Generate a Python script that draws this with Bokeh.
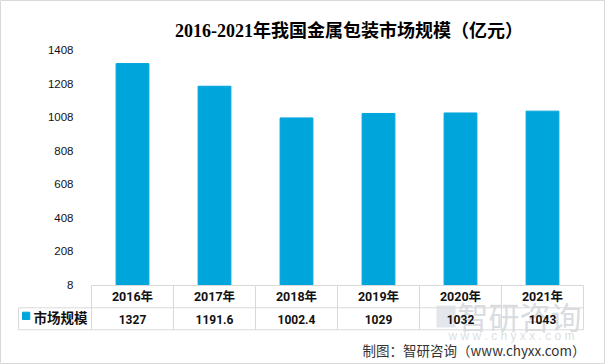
from bokeh.plotting import figure
from bokeh.models import ColumnDataSource, FixedTicker, Range1d
from bokeh.core.properties import value
from bokeh.embed import file_html
from bokeh.resources import INLINE

# ---------------- data ----------------
years = ["2016年", "2017年", "2018年", "2019年", "2020年", "2021年"]
values = [1327, 1191.6, 1002.4, 1029, 1032, 1043]
value_labels = ["1327", "1191.6", "1002.4", "1029", "1032", "1043"]
y_ticks = [8, 208, 408, 608, 808, 1008, 1208, 1408]
title_text = "2016-2021年我国金属包装市场规模（亿元）"
series_name = "市场规模"
source_text = "制图：智研咨询（www.chyxx.com）"
watermark_text = "智研咨询"
watermark_url = "w w w . c h y x x . c o m"

# ---------------- layout (picture pixels) ----------------
W, H = 605, 364
OFF = 0
X0_PX, X_UNIT = 91.0, 82.0
Y8_PX, Y_PX_PER_UNIT = 284.0, 0.1675


def px2x(px):
    return (px - X0_PX) / X_UNIT


def px2y(py):
    return 8 + (Y8_PX - py) / Y_PX_PER_UNIT


BLUE = "#00A5DC"
GRID = "#d9d9d9"
CJK = "Noto Sans CJK SC"
NUM = "Roboto, Noto Sans CJK SC"

p = figure(width=W, height=H, output_backend="svg", toolbar_location=None,
           x_range=Range1d(px2x(OFF), px2x(OFF + W)),
           y_range=Range1d(px2y(OFF + H), px2y(OFF)),
           x_axis_location=None, min_border=0)
p.outline_line_color = "#d9d9d9"
p.xgrid.visible = False
p.ygrid.visible = False
p.background_fill_color = "white"
p.border_fill_color = "white"

n = len(years)
xs = [i + 0.5 for i in range(n)]

# bars
p.vbar(x=xs, top=values, bottom=px2y(285), width=0.4, color=BLUE)

# y axis
yax = p.yaxis[0]
yax.fixed_location = 0
yax.ticker = FixedTicker(ticks=y_ticks)
yax.axis_line_color = None
yax.major_tick_line_color = None
yax.minor_tick_line_color = None
yax.major_label_standoff = 12
yax.major_label_text_font = "Liberation Sans"
yax.major_label_text_font_size = "11.5px"
yax.major_label_text_color = "#111111"

# watermark
p.quad(left=[px2x(436)], right=[px2x(455)], top=[px2y(305)], bottom=[px2y(327)],
       fill_color="#b9c2cc", fill_alpha=0.4, line_color=None)
p.text(x=[px2x(457)], y=[px2y(315)], text=[watermark_text],
       text_font=value(CJK), text_font_size="31px", text_color="#b9bec6",
       text_alpha=0.55, text_align="left", text_baseline="middle")
p.text(x=[px2x(511)], y=[px2y(335)], text=[watermark_url],
       text_font=value("Liberation Sans"), text_font_size="12px", text_color="#c4c8ce",
       text_alpha=0.6, text_align="center", text_baseline="middle")

# table lines
t_top, t_mid, t_bot = px2y(285), px2y(307.3), px2y(329.3)
x_left = px2x(18)
p.segment(x0=[0, x_left, x_left], y0=[t_top, t_mid, t_bot],
          x1=[n, n, n], y1=[t_top, t_mid, t_bot], line_color=GRID, line_width=1)
p.segment(x0=list(range(n + 1)), y0=[t_top] * (n + 1),
          x1=list(range(n + 1)), y1=[t_bot] * (n + 1), line_color=GRID, line_width=1)
p.segment(x0=[x_left], y0=[t_mid], x1=[x_left], y1=[t_bot], line_color=GRID, line_width=1)

# table texts
src = ColumnDataSource(dict(x=xs, yr=years, val=value_labels,
                            y1=[px2y(296)] * n, y2=[px2y(318.5)] * n))
p.text(x="x", y="y1", text="yr", source=src, text_font=value(NUM),
       text_font_style="bold", text_font_size="12.5px", text_color="#111111",
       text_align="center", text_baseline="middle")
p.text(x="x", y="y2", text="val", source=src, text_font=value(NUM),
       text_font_style="bold", text_font_size="12px", text_color="#111111",
       text_align="center", text_baseline="middle")

# legend cell
p.quad(left=[px2x(22)], right=[px2x(29.3)], top=[px2y(311.7)], bottom=[px2y(319)],
       color=BLUE)
p.text(x=[px2x(33)], y=[px2y(316)], text=[series_name], text_font=value(CJK),
       text_font_style="bold", text_font_size="13.5px", text_color="#111111",
       text_align="left", text_baseline="middle")

# title
p.text(x=[px2x(348.5)], y=[px2y(30)], text=[title_text],
       text_font=value("Liberation Serif, Noto Sans CJK SC"), text_font_style="bold",
       text_font_size="18px", text_color="#000000",
       text_align="center", text_baseline="middle")

# source
p.text(x=[px2x(585)], y=[px2y(349)], text=[source_text], text_font=value(CJK),
       text_font_size="13.5px", text_color="#333333",
       text_align="right", text_baseline="middle")

open("out.html", "w").write(file_html(p, INLINE))
